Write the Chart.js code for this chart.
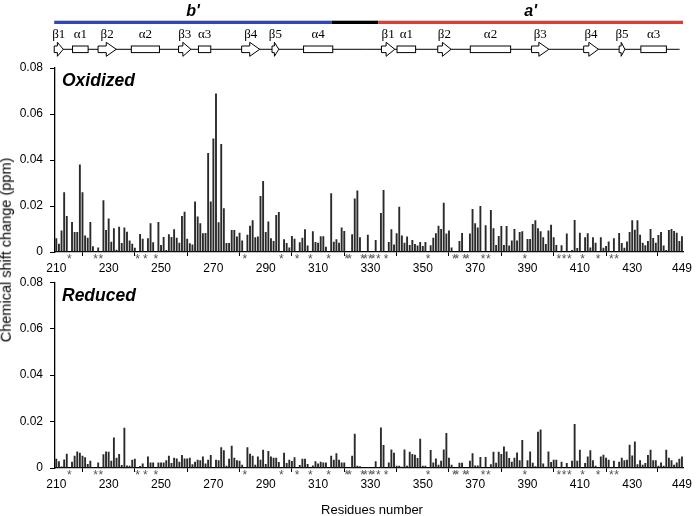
<!DOCTYPE html>
<html>
<head>
<meta charset="utf-8">
<script src="https://cdn.jsdelivr.net/npm/chart.js@4.4.1/dist/chart.umd.min.js"></script>
<style>
  body { margin: 0; background: #fff; }
  #wrap { position: relative; width: 697px; height: 516px; font-family: "Liberation Sans", Arial, sans-serif; }
  #wrap canvas { position: absolute; left: 0; }
  .lbl { position: absolute; white-space: nowrap; line-height: 1; color: #000; }
  .panel { font-size: 17.5px; font-weight: bold; font-style: italic; }
</style>
</head>
<body>
<div id="wrap">
  <canvas id="oxChart" width="697" height="280" style="top:0"></canvas>
  <canvas id="redChart" width="697" height="248" style="top:268px"></canvas>
  <div class="lbl panel" style="left:62px; top:72px">Oxidized</div>
  <div class="lbl panel" style="left:62px; top:287px">Reduced</div>
  <div class="lbl" style="left:6px; top:250px; font-size:14.5px; transform:translate(-50%,-50%) rotate(-90deg)">Chemical shift change (ppm)</div>
  <div class="lbl" style="left:372px; top:509px; font-size:13px; transform:translate(-50%,-50%)">Residues number</div>
</div>
<script>
// residue numbers (categories)
const residues = [];
for (let r = 210; r <= 449; r++) residues.push(r);

const xTicks = [210, 230, 250, 270, 290, 310, 330, 350, 370, 390, 410, 430, 449];
const yTicks = [0, 0.02, 0.04, 0.06, 0.08];

// chemical shift change (ppm), one value per residue 210..449, null = no data
const oxidized = [
  0.006, 0.0036, 0.0093, 0.026, 0.0157, null, 0.013, 0.0087, 0.0087, 0.038,
  0.026, 0.0072, 0.0062, 0.013, 0.0025, null, 0.002, null, 0.0225, 0.0096,
  0.0146, 0.0045, 0.0103, 0.001, 0.011, 0.0039, 0.0107, 0.0088, 0.005, 0.0036,
  0.0019, null, 0.0078, 0.0058, null, 0.006, 0.0125, 0.0042, null, 0.013,
  0.003, 0.0065, 0.0009, 0.0077, 0.0065, 0.0099, 0.0062, 0.004, 0.0157, 0.0175,
  0.0058, 0.0038, 0.0033, 0.022, 0.0154, 0.0125, 0.0081, 0.0083, 0.043, 0.022,
  0.0494, 0.0689, 0.0129, 0.047, 0.019, 0.0039, 0.0039, 0.0096, 0.0096, 0.0067,
  0.0084, 0.005, null, 0.0075, 0.0114, 0.0138, 0.0064, 0.0067, 0.0243, 0.0309,
  0.0087, 0.0133, 0.006, 0.0048, 0.0161, 0.0174, null, 0.0055, 0.0039, 0.002,
  0.007, 0.0058, null, 0.0042, 0.0062, 0.0099, 0.0028, null, 0.009, 0.0043,
  0.004, 0.0068, 0.0068, 0.0023, null, 0.0255, 0.0045, 0.0055, 0.004, 0.0107,
  0.0091, null, null, 0.0077, 0.0233, 0.0267, 0.0064, null, null, 0.0075,
  null, null, 0.0052, null, 0.017, 0.027, null, 0.0043, 0.0099, 0.0033,
  0.0081, 0.0197, 0.0072, 0.004, 0.0067, 0.003, 0.0052, 0.0035, 0.0028, 0.0043,
  0.0026, 0.0043, null, 0.0029, 0.0062, 0.0081, 0.0114, 0.01, 0.0214, 0.008,
  0.0094, 0.002, null, null, 0.0048, 0.0083, null, null, 0.008, 0.0187,
  0.0125, 0.0106, 0.02, null, 0.0116, null, 0.0183, 0.0103, 0.003, 0.007,
  0.0113, 0.003, 0.0113, 0.0028, 0.005, 0.01, 0.005, 0.0087, 0.009, null,
  0.0057, 0.0057, 0.0122, 0.0138, 0.0103, 0.009, 0.0064, 0.0035, 0.0093, 0.0119,
  0.0064, 0.003, null, 0.0029, null, 0.008, null, 0.0009, 0.0139, 0.0017,
  0.0084, null, 0.0064, 0.0081, 0.002, 0.0064, 0.004, null, 0.0064, 0.0019,
  0.0026, 0.0046, null, 0.006, null, 0.0083, 0.0039, 0.0019, 0.0046, 0.0087,
  0.0138, 0.0097, 0.0138, 0.0075, 0.004, 0.0029, 0.0048, 0.01, 0.0061, 0.004,
  0.0074, 0.0087, 0.0028, 0.0009, 0.0096, 0.01, 0.0091, 0.0084, 0.0048, 0.0068
];

const reduced = [
  0.004, 0.0029, 0.0006, 0.0037, 0.0061, null, 0.0027, 0.0053, 0.0071, 0.0066,
  0.0053, 0.0046, 0.0017, 0.0031, 0.0004, null, 0.0024, null, 0.0059, 0.0071,
  0.007, 0.0031, 0.0131, 0.0044, 0.006, 0.0013, 0.0173, 0.0011, 0.001, 0.0036,
  0.004, null, 0.0009, 0.0019, null, 0.005, 0.0024, 0.0024, null, 0.0024,
  0.0024, 0.0024, 0.0033, 0.0053, 0.0021, 0.0044, 0.0041, 0.0027, 0.0056, 0.0041,
  0.0041, 0.0044, 0.0016, 0.0027, 0.0036, 0.0033, 0.005, 0.0019, 0.0036, 0.0056,
  0.0003, 0.0036, 0.0033, 0.0089, 0.0076, 0.001, 0.004, 0.0096, 0.0044, 0.0033,
  0.0031, 0.0014, null, 0.0089, 0.0061, 0.0053, 0.0014, 0.005, 0.0036, 0.0079,
  0.0017, 0.0073, 0.005, 0.0044, 0.0044, 0.0026, null, 0.0066, 0.0021, 0.0036,
  0.003, 0.0046, null, 0.0013, 0.004, 0.004, 0.0017, null, 0.0011, 0.0029,
  0.0019, 0.0027, 0.0024, 0.0024, null, 0.0053, 0.0036, 0.0063, 0.0036, 0.0024,
  0.0024, null, null, 0.0053, 0.0147, 0.001, 0.0007, null, null, 0.0004,
  null, null, 0.0029, null, 0.0174, 0.0099, null, 0.0024, 0.008, 0.0066,
  0.001, 0.001, 0.0005, 0.008, 0.001, 0.007, 0.006, 0.0057, 0.0043, 0.0126,
  0.001, 0.001, null, 0.0077, 0.0024, 0.0041, 0.0014, 0.0031, 0.008, 0.0151,
  0.0044, 0.0014, null, null, 0.0023, 0.0023, null, null, 0.0031, 0.0064,
  0.0011, 0.0011, 0.0047, null, 0.0047, null, 0.0016, 0.007, 0.0023, 0.007,
  0.006, 0.0093, 0.0071, 0.0043, 0.0027, 0.0044, 0.0067, 0.0033, 0.0121, null,
  0.0033, 0.0071, 0.0023, 0.0008, 0.0156, 0.0166, 0.0019, 0.0005, 0.0071, 0.0026,
  0.0036, 0.0036, null, 0.0027, null, 0.0021, null, 0.0031, 0.0189, 0.0031,
  0.0079, null, 0.0021, 0.0049, 0.0076, 0.0033, 0.001, null, 0.0049, 0.0057,
  0.0044, 0.0036, null, 0.0031, null, 0.0027, 0.0044, 0.0033, 0.0036, 0.01,
  0.0054, 0.0114, 0.0016, 0.0033, 0.0014, 0.0021, 0.0056, 0.0079, 0.0033, 0.0033,
  0.001, 0.0024, 0.001, 0.0079, 0.0044, 0.0033, 0.0014, 0.0024, 0.004, 0.0049
];

// residues marked with * under the axis
const starred = [215, 225, 227, 241, 244, 248, 282, 296, 302, 307, 314, 321, 322,
  327, 328, 330, 331, 333, 336, 352, 362, 363, 366, 367, 373, 375, 389, 402, 404,
  406, 411, 417, 422, 424];

// domains (residue ranges)
const domainNames = ["b'", '', "a'"];
const domainRanges = [[209.2, 315.2], [315.2, 333.0], [333.0, 449.4]];
const domainColors = ['#2a45c6', '#000000', '#e73a2e'];

// secondary structure (residue ranges)
const strandNames = ['β1', 'β2', 'β3', 'β4', 'β5', 'β1', 'β2', 'β3', 'β4', 'β5'];
const strandRanges = [[209.2, 212.65], [225.95, 232.9], [256.7, 261.4], [280.8, 287.7], [292.4, 295],
  [334.2, 339.3], [355.7, 360.8], [391.55, 398.15], [411.45, 417.1], [425.0, 427.2]];
const helixNames = ['α1', 'α2', 'α3', 'α4', 'α1', 'α2', 'α3'];
const helixRanges = [[216.2, 222.15], [238.65, 249.4], [264.3, 269.0], [304.45, 315.6],
  [340.15, 347.25], [368.15, 383.55], [433.3, 443.05]];
const backbone = [209.2, 448.1];

const FONT = '"Liberation Sans", Arial, sans-serif';

// stars below the x axis
const starPlugin = {
  id: 'stars',
  afterDraw(chart) {
    const { ctx, scales: { x, y } } = chart;
    ctx.save();
    ctx.fillStyle = '#555';
    ctx.font = '12px ' + FONT;
    ctx.textAlign = 'center';
    ctx.textBaseline = 'top';
    starred.forEach(r => ctx.fillText('*', x.getPixelForValue(r), y.bottom + 2));
    ctx.restore();
  }
};

// domain bar and secondary structure cartoon above the top panel
const structPlugin = {
  id: 'struct',
  afterDraw(chart) {
    const ctx = chart.ctx;
    const x = chart.scales.x;
    const px = r => x.getPixelForValue(r);
    ctx.save();

    domainRanges.forEach((d, i) => {
      ctx.fillStyle = domainColors[i];
      ctx.fillRect(px(d[0]), 20.7, px(d[1]) - px(d[0]), 3.3);
      if (domainNames[i]) {
        ctx.fillStyle = '#000';
        ctx.font = 'italic bold 16px ' + FONT;
        ctx.textAlign = 'center';
        ctx.textBaseline = 'alphabetic';
        ctx.fillText(domainNames[i], (px(d[0]) + px(d[1])) / 2, 15.5);
      }
    });

    const yc = 49.3;
    ctx.strokeStyle = '#000';
    ctx.lineWidth = 1;
    ctx.beginPath();
    ctx.moveTo(px(backbone[0]), yc);
    ctx.lineTo(px(backbone[1]), yc);
    ctx.stroke();

    ctx.font = '13px "Liberation Serif", "Times New Roman", serif';
    ctx.textAlign = 'center';
    ctx.textBaseline = 'alphabetic';

    helixRanges.forEach((h, i) => {
      const x0 = px(h[0]), x1 = px(h[1]);
      ctx.fillStyle = '#fff';
      ctx.fillRect(x0, yc - 3.3, x1 - x0, 6.6);
      ctx.strokeRect(x0, yc - 3.3, x1 - x0, 6.6);
      ctx.fillStyle = '#000';
      ctx.fillText(helixNames[i], (x0 + x1) / 2, 37.5);
    });

    strandRanges.forEach((s, i) => {
      const x0 = px(s[0]), x1 = px(s[1]);
      const head = Math.min(10, (x1 - x0) * 0.65);
      const xh = x1 - head;
      ctx.beginPath();
      ctx.moveTo(x0, yc - 3.3);
      ctx.lineTo(xh, yc - 3.3);
      ctx.lineTo(xh, yc - 7);
      ctx.lineTo(x1, yc);
      ctx.lineTo(xh, yc + 7);
      ctx.lineTo(xh, yc + 3.3);
      ctx.lineTo(x0, yc + 3.3);
      ctx.closePath();
      ctx.fillStyle = '#fff';
      ctx.fill();
      ctx.stroke();
      ctx.fillStyle = '#000';
      ctx.fillText(strandNames[i], (x0 + x1) / 2, 37.5);
    });

    ctx.restore();
  }
};

function makeChart(id, values, padding, plugins) {
  return new Chart(document.getElementById(id), {
    type: 'bar',
    data: {
      datasets: [{
        data: residues.map((r, i) => ({ x: r, y: values[i] })),
        backgroundColor: '#2a2a2a',
        borderWidth: 0,
        categoryPercentage: 1,
        barPercentage: 0.72
      }]
    },
    options: {
      responsive: false,
      animation: false,
      layout: { padding: padding },
      plugins: { legend: { display: false }, tooltip: { enabled: false } },
      scales: {
        x: {
          type: 'linear',
          min: 209.5,
          max: 449.5,
          offset: false,
          afterBuildTicks: s => { s.ticks = xTicks.map(v => ({ value: v })); },
          afterFit: s => { s.height = 28; },
          border: { display: true, color: '#000', width: 1.3 },
          grid: { drawOnChartArea: false, tickLength: 4, color: '#000' },
          ticks: { autoSkip: false, maxRotation: 0, padding: 5, color: '#000',
            font: { family: FONT, size: 12 }, callback: v => String(v) }
        },
        y: {
          min: 0,
          max: 0.08,
          afterBuildTicks: s => { s.ticks = yTicks.map(v => ({ value: v })); },
          afterFit: s => { s.width = 55; },
          border: { display: true, color: '#000', width: 1.3 },
          grid: { drawOnChartArea: false, tickLength: 5, color: '#000' },
          ticks: { padding: 7, color: '#000', font: { family: FONT, size: 12 },
            callback: v => (v === 0 ? '0' : v.toFixed(2)) }
        }
      }
    },
    plugins: plugins
  });
}

makeChart('oxChart', oxidized, { top: 68, left: 0, right: 10, bottom: 0 }, [starPlugin, structPlugin]);
makeChart('redChart', reduced, { top: 13, left: 0, right: 10, bottom: 20 }, [starPlugin]);
</script>
</body>
</html>
